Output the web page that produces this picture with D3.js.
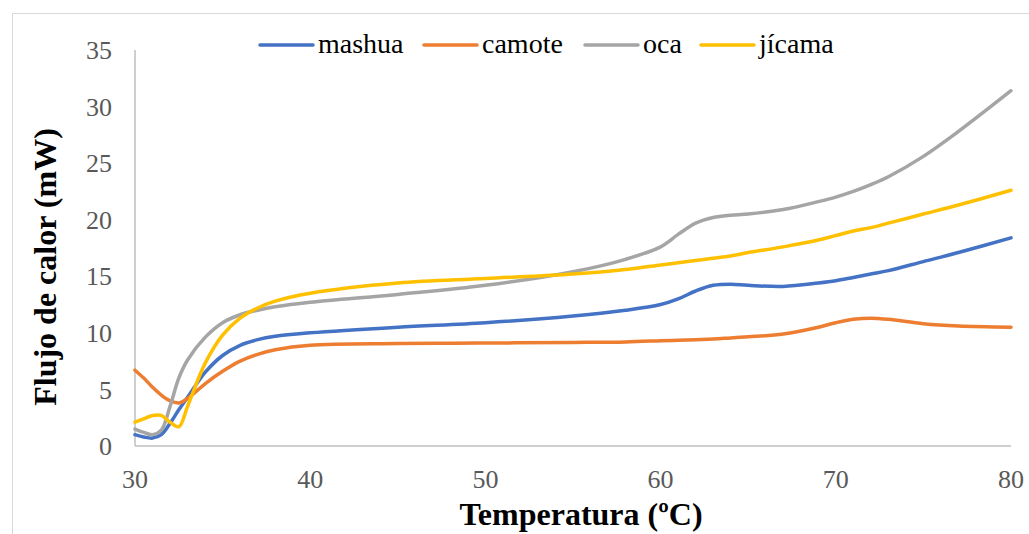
<!DOCTYPE html>
<html>
<head>
<meta charset="utf-8">
<script src="https://cdn.jsdelivr.net/npm/d3@7"></script>
<style>
  body { margin: 0; background: #fff; }
  svg text { font-family: "Liberation Serif", "Times New Roman", Times, serif; }
</style>
</head>
<body>
<svg id="chart" width="1029" height="534"></svg>
<script>
var FONT = "'Liberation Serif', 'Times New Roman', Times, serif";

// temperatura (ºC)
var temps = [30, 30.5, 31, 31.5, 32, 32.5, 33, 34, 35, 36, 37, 38, 40, 45, 50, 55, 58, 60, 61, 62, 63, 64, 65, 67, 69, 70, 71, 72, 73, 75, 77, 80];

var mashua = [1.0, 0.8, 0.7, 1.0, 2.0, 3.2, 4.3, 6.5, 8.0, 8.9, 9.4, 9.7, 10.0, 10.5, 10.9, 11.5, 12.0, 12.5, 13.0, 13.7, 14.2, 14.3, 14.2, 14.1, 14.4, 14.6, 14.9, 15.2, 15.5, 16.3, 17.1, 18.4];
var camote = [6.7, 6.0, 5.2, 4.5, 4.0, 3.8, 4.2, 5.5, 6.6, 7.5, 8.1, 8.5, 8.9, 9.05, 9.1, 9.15, 9.2, 9.3, 9.35, 9.4, 9.45, 9.55, 9.65, 9.9, 10.5, 10.9, 11.2, 11.3, 11.2, 10.8, 10.6, 10.5];
var oca = [1.5, 1.2, 1.0, 1.4, 3.5, 6.0, 7.6, 9.6, 10.9, 11.6, 12.0, 12.3, 12.7, 13.4, 14.2, 15.4, 16.5, 17.6, 18.7, 19.7, 20.2, 20.4, 20.5, 20.9, 21.6, 22.0, 22.5, 23.1, 23.8, 25.6, 27.8, 31.4];
var jicama = [2.1, 2.4, 2.7, 2.7, 2.1, 1.7, 3.5, 7.3, 9.8, 11.3, 12.2, 12.8, 13.5, 14.4, 14.8, 15.2, 15.6, 16.0, 16.2, 16.4, 16.6, 16.8, 17.1, 17.6, 18.2, 18.6, 19.0, 19.3, 19.7, 20.5, 21.3, 22.6];

var seriesNames = ["mashua", "camote", "oca", "jícama"];
var colors = ["#4472C4", "#ED7D31", "#A5A5A5", "#FFC000"];
var xTicks = [30, 40, 50, 60, 70, 80];
var yTicks = [0, 5, 10, 15, 20, 25, 30, 35];

var svg = d3.select("#chart");

// marco exterior
svg.append("rect")
  .attr("x", 12.5).attr("y", 13.5)
  .attr("width", 1040).attr("height", 540)
  .attr("fill", "none").attr("stroke", "#d9d9d9");

var x = d3.scaleLinear().domain([30, 80]).range([135, 1011]);
var y = d3.scaleLinear().domain([0, 35]).range([446, 50]);

// ejes
svg.append("line")
  .attr("x1", x(30)).attr("x2", x(30))
  .attr("y1", y(35)).attr("y2", y(0))
  .attr("stroke", "#bfbfbf").attr("stroke-width", 1.5);
svg.append("line")
  .attr("x1", x(30)).attr("x2", x(80))
  .attr("y1", y(0)).attr("y2", y(0))
  .attr("stroke", "#bfbfbf").attr("stroke-width", 1.5);

svg.selectAll(".ytick")
  .data(yTicks)
  .enter().append("text")
  .attr("class", "ytick")
  .attr("x", 112)
  .attr("y", function(d) { return y(d); })
  .attr("dy", "0.35em")
  .attr("text-anchor", "end")
  .attr("font-family", FONT)
  .attr("font-size", 26)
  .attr("fill", "#595959")
  .text(function(d) { return d; });

svg.selectAll(".xtick")
  .data(xTicks)
  .enter().append("text")
  .attr("class", "xtick")
  .attr("x", function(d) { return x(d); })
  .attr("y", 488)
  .attr("text-anchor", "middle")
  .attr("font-family", FONT)
  .attr("font-size", 26)
  .attr("fill", "#595959")
  .text(function(d) { return d; });

// titulos
svg.append("text")
  .attr("transform", "translate(56,267) rotate(-90)")
  .attr("text-anchor", "middle")
  .attr("font-family", FONT)
  .attr("font-size", 32)
  .attr("font-weight", "bold")
  .text("Flujo de calor (mW)");

svg.append("text")
  .attr("x", 581).attr("y", 525)
  .attr("text-anchor", "middle")
  .attr("font-family", FONT)
  .attr("font-size", 32)
  .attr("font-weight", "bold")
  .text("Temperatura (ºC)");

// series
var allSeries = [mashua, camote, oca, jicama];
var line = d3.line()
  .x(function(d, i) { return x(temps[i]); })
  .y(function(d) { return y(d); })
  .curve(d3.curveCatmullRom.alpha(0.5));

svg.selectAll(".serie")
  .data(allSeries)
  .enter().append("path")
  .attr("class", "serie")
  .attr("d", line)
  .attr("fill", "none")
  .attr("stroke", function(d, i) { return colors[i]; })
  .attr("stroke-width", 3.5)
  .attr("stroke-linecap", "round");

// leyenda
var legendX = [260, 424, 585, 701];
var lg = svg.selectAll(".leg")
  .data(seriesNames)
  .enter().append("g")
  .attr("class", "leg")
  .attr("transform", function(d, i) { return "translate(" + legendX[i] + ",45)"; });

lg.append("line")
  .attr("x1", 0).attr("x2", 53)
  .attr("stroke", function(d, i) { return colors[i]; })
  .attr("stroke-width", 3.5)
  .attr("stroke-linecap", "round");

lg.append("text")
  .attr("x", 58).attr("y", 8)
  .attr("font-family", FONT)
  .attr("font-size", 28)
  .attr("fill", "#000")
  .text(function(d) { return d; });
</script>
</body>
</html>
